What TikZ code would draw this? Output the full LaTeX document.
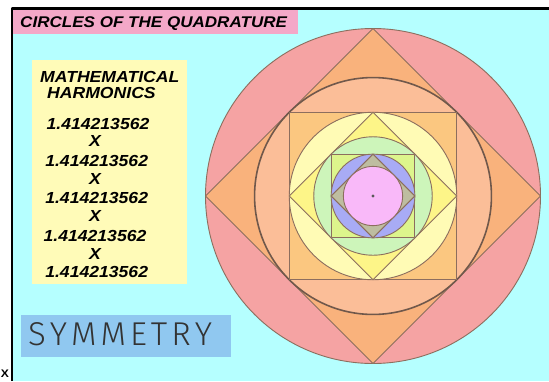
\documentclass[tikz,border=0pt]{standalone}
\usepackage{fontspec}
\newfontfamily\hfont[FakeStretch=1.1]{Liberation Sans}
\newfontfamily\symfont{Fira Sans Light}
\definecolor{bgcyan}{HTML}{B5FFFF}
\definecolor{titlepink}{HTML}{F4A8C8}
\definecolor{boxyellow}{HTML}{FFFBB8}
\definecolor{boxblue}{HTML}{90C8F0}
\definecolor{cred}{HTML}{F5A3A3}
\definecolor{corange}{HTML}{F9B27C}
\definecolor{cpeach}{HTML}{FBBE98}
\definecolor{clorange}{HTML}{FBC780}
\definecolor{cpyellow}{HTML}{FFFBB5}
\definecolor{cyellow}{HTML}{FDF588}
\definecolor{cgreen}{HTML}{CDF5BA}
\definecolor{cygreen}{HTML}{DDF58C}
\definecolor{cblue}{HTML}{A8ABF5}
\definecolor{cgrey}{HTML}{BEBDA0}
\definecolor{cpink}{HTML}{F9B9F9}
\definecolor{linebrown}{HTML}{8C6E5E}
\tikzset{
  geo/.style={draw=linebrown, line width=0.9pt},
  hdr/.style={font=\hfont\bfseries\itshape\fontsize{16}{16}\selectfont, inner sep=0pt},
  numtxt/.style={hdr, anchor=base},
}
\begin{document}
\begin{tikzpicture}[x=1pt,y=-1pt,line join=round]
\useasboundingbox (0,0) rectangle (549,381);
\fill[white] (0,0) rectangle (549,381);
\fill[bgcyan] (11,8) rectangle (549,381);
\draw[black, line width=2.2pt] (12,381) -- (12,8.5) -- (549,8.5);
% title
\fill[titlepink] (13,9.6) rectangle (298,33.5);
\node[hdr, font=\hfont\bfseries\itshape\fontsize{15.5}{15.5}\selectfont, anchor=base west] (title) at (20,27.5) {CIRCLES OF THE QUADRATURE};
% yellow box
\fill[boxyellow] (31.5,60) rectangle (187,284);
\node[hdr, anchor=base west] (math) at (40,82.5) {MATHEMATICAL};
\node[hdr, anchor=base west] (harm) at (47,98.5) {HARMONICS};
\node[numtxt] (n1) at (98,129.5) {1.414213562};
\node[numtxt] (x1) at (95,146.8) {X};
\node[numtxt] (n2) at (96.7,166.2) {1.414213562};
\node[numtxt] (x2) at (95,184) {X};
\node[numtxt] (n3) at (96.7,203.5) {1.414213562};
\node[numtxt] (x3) at (95,221.7) {X};
\node[numtxt] (n4) at (95,241.2) {1.414213562};
\node[numtxt] (x4) at (95,259) {X};
\node[numtxt] (n5) at (96.7,277.8) {1.414213562};
% symmetry box
\fill[boxblue] (21,315) rectangle (231,357);
\node[font=\symfont\fontsize{33}{33}\selectfont, text=black!80, anchor=base west, inner sep=0pt] (sym) at (28,345) {S\kern4ptY\kern4ptM\kern4ptM\kern4ptE\kern4ptT\kern4ptR\kern4ptY};
% stray mark
\node[font=\hfont\bfseries\fontsize{11}{11}\selectfont, anchor=base, inner sep=0pt] (xs) at (5,377.5) {X};
% geometry
\begin{scope}[shift={(373,196)}]
\pgfmathsetmacro{\Ra}{167.5}
\pgfmathsetmacro{\Rb}{167.5/sqrt(2)}
\pgfmathsetmacro{\Rc}{167.5/2}
\pgfmathsetmacro{\Rd}{167.5/(2*sqrt(2))}
\pgfmathsetmacro{\Re}{167.5/4}
\pgfmathsetmacro{\Rf}{167.5/(4*sqrt(2))}
\filldraw[geo, fill=cred] (0,0) circle (\Ra pt);
\filldraw[geo, fill=corange] (\Ra,0) -- (0,\Ra) -- (-\Ra,0) -- (0,-\Ra) -- cycle;
\filldraw[geo, fill=cpeach, draw=linebrown!80!black, line width=1.6pt] (0,0) circle (\Rb pt);
\filldraw[geo, fill=clorange] (-\Rc,-\Rc) rectangle (\Rc,\Rc);
\filldraw[geo, fill=cpyellow] (0,0) circle (\Rc pt);
\filldraw[geo, fill=cyellow] (\Rc,0) -- (0,\Rc) -- (-\Rc,0) -- (0,-\Rc) -- cycle;
\filldraw[geo, fill=cgreen] (0,0) circle (\Rd pt);
\filldraw[geo, fill=cygreen] (-\Re,-\Re) rectangle (\Re,\Re);
\filldraw[geo, fill=cblue] (0,0) circle (\Re pt);
\filldraw[geo, fill=cgrey] (\Re,0) -- (0,\Re) -- (-\Re,0) -- (0,-\Re) -- cycle;
\filldraw[geo, fill=cpink] (0,0) circle (\Rf pt);
\fill[black!65] (0,0) circle (1.6pt);
\end{scope}
\end{tikzpicture}
\end{document}
